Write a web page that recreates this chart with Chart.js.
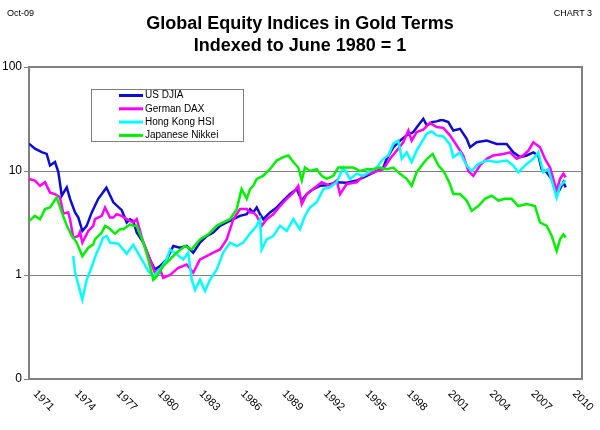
<!DOCTYPE html>
<html lang="en">
<head>
    <meta charset="UTF-8">
    <title>Global Equity Indices in Gold Terms</title>
    <style>
        body {
            margin: 0;
            background: #ffffff;
            font-family: "Liberation Sans", Arial, sans-serif;
        }
        #wrap {
            position: relative;
            width: 600px;
            height: 430px;
        }
        #chart {
            position: absolute;
            left: 0;
            top: 0;
        }
        .corner {
            position: absolute;
            top: 8px;
            font-size: 9px;
            color: #000;
        }
        #title {
            position: absolute;
            top: 12px;
            left: 0;
            width: 600px;
            text-align: center;
            font-weight: bold;
            font-size: 18px;
            line-height: 22px;
            color: #000;
        }
    </style>
</head>
<body>
<div id="wrap">
    <canvas id="chart" width="600" height="430"></canvas>
    <div class="corner" style="left:7px;">Oct-09</div>
    <div class="corner" style="right:8px;">CHART 3</div>
    <div id="title">Global Equity Indices in Gold Terms<br>Indexed to June 1980 = 1</div>
</div>

<script src="https://cdn.jsdelivr.net/npm/chart.js"></script>
<script>
    // axis ticks
    const xTickYears = [1971, 1974, 1977, 1980, 1983, 1986, 1989, 1992, 1995, 1998, 2001, 2004, 2007, 2010];
    const yTickValues = [0.1, 1, 10, 100];
    const yTickLabels = ['0', '1', '10', '100'];

    const seriesNames = ['US DJIA', 'German DAX', 'Hong Kong HSI', 'Japanese Nikkei'];
    const seriesColors = ['#0c0cd2', '#ff00ff', '#00ffff', '#00f000'];

    // US DJIA
    const djiaYears = [1971.00, 1971.43, 1971.92, 1972.28, 1972.52, 1972.88, 1973.12, 1973.37, 1973.73, 1973.97,
        1974.33, 1974.57, 1974.86, 1975.17, 1975.54, 1976.01, 1976.60, 1976.98, 1977.10, 1977.71,
        1978.07, 1978.31, 1978.54, 1978.79, 1979.27, 1979.75, 1980.11, 1980.48, 1980.96, 1981.44,
        1981.92, 1982.41, 1982.88, 1983.37, 1983.85, 1984.33, 1984.82, 1985.30, 1985.78, 1986.26,
        1986.75, 1986.99, 1987.22, 1987.47, 1987.71, 1987.95, 1988.43, 1988.92, 1989.39, 1989.88,
        1990.36, 1990.73, 1991.09, 1991.56, 1992.05, 1992.53, 1993.26, 1993.98, 1994.70, 1995.43,
        1996.15, 1996.63, 1996.87, 1997.35, 1997.84, 1998.32, 1998.80, 1999.16, 1999.52, 1999.77,
        2000.00, 2000.13, 2000.49, 2000.73, 2000.97, 2001.33, 2001.69, 2002.18, 2002.66, 2002.90,
        2003.38, 2004.11, 2004.83, 2005.55, 2006.03, 2006.52, 2007.00, 2007.48, 2007.84, 2008.08,
        2008.45, 2008.81, 2009.17, 2009.41, 2009.65, 2009.82];
    const djiaValues = [18.3, 16.4, 15.2, 14.6, 11.3, 12.2, 9.8, 5.8, 6.96, 5.4,
        4.0, 3.57, 2.65, 2.97, 4.0, 5.4, 6.9, 5.4, 5.0, 4.2,
        3.2, 3.44, 3.3, 2.56, 2.05, 1.41, 1.13, 1.22, 1.41, 1.9,
        1.83, 1.9, 1.64, 2.05, 2.37, 2.56, 2.97, 3.2, 3.44, 3.7,
        3.84, 4.3, 4.0, 4.46, 3.84, 3.44, 4.0, 4.46, 5.2, 6.0,
        6.7, 5.2, 6.0, 6.7, 7.2, 7.3, 7.8, 7.7, 8.1, 9.0,
        10.0, 10.8, 13.1, 16.9, 19.6, 22.0, 23.7, 27.5, 31.8, 27.5,
        28.5, 29.5, 30.0, 30.7, 30.7, 29.5, 24.5, 25.4, 20.4, 16.9,
        18.9, 19.6, 18.2, 18.2, 15.1, 13.6, 14.1, 15.1, 14.1, 10.4,
        9.7, 8.4, 6.0, 6.7, 7.8, 6.96];

    // German DAX
    const daxYears = [1971.00, 1971.43, 1971.80, 1972.16, 1972.52, 1972.88, 1973.24, 1973.48, 1973.84, 1973.97,
        1974.20, 1974.57, 1974.69, 1974.86, 1975.29, 1975.65, 1975.77, 1976.26, 1976.50, 1976.86,
        1977.10, 1977.34, 1977.71, 1978.07, 1978.54, 1978.79, 1979.27, 1979.75, 1980.11, 1980.48,
        1980.71, 1981.20, 1981.80, 1982.41, 1982.88, 1983.37, 1983.85, 1984.33, 1984.82, 1985.30,
        1985.78, 1986.26, 1986.75, 1986.99, 1987.22, 1987.47, 1987.83, 1988.19, 1988.67, 1989.16,
        1989.64, 1990.12, 1990.48, 1990.73, 1991.09, 1991.56, 1992.17, 1992.77, 1993.26, 1993.50,
        1993.98, 1994.70, 1995.18, 1995.90, 1996.63, 1997.11, 1997.60, 1998.07, 1998.44, 1998.68,
        1999.04, 1999.52, 2000.00, 2000.49, 2000.97, 2001.45, 2001.94, 2002.41, 2002.78, 2003.14,
        2003.62, 2004.11, 2004.58, 2005.31, 2005.79, 2006.28, 2006.75, 2007.12, 2007.48, 2007.96,
        2008.32, 2008.69, 2009.17, 2009.41, 2009.65, 2009.82];
    const daxValues = [8.4, 8.1, 7.2, 7.8, 6.2, 6.0, 5.6, 3.9, 4.0, 3.44,
        2.29, 2.37, 2.6, 2.05, 2.65, 2.97, 3.44, 3.7, 4.46, 3.57,
        3.57, 3.84, 3.7, 3.44, 3.2, 3.44, 2.05, 1.41, 1.05, 1.13,
        0.94, 1.0, 1.17, 1.26, 1.05, 1.41, 1.52, 1.64, 1.76, 2.2,
        3.44, 4.3, 4.3, 4.0, 4.0, 3.7, 2.97, 3.44, 3.84, 4.6,
        5.4, 6.2, 7.2, 4.8, 6.0, 6.7, 7.8, 7.2, 8.1, 6.0,
        7.5, 7.8, 9.0, 9.7, 10.4, 13.1, 15.7, 18.9, 24.5, 19.6,
        23.7, 25.0, 29.0, 26.5, 26.0, 22.0, 17.6, 14.1, 10.0, 9.0,
        11.3, 13.1, 14.1, 14.6, 15.1, 13.1, 14.1, 15.7, 18.9, 16.9,
        13.1, 10.8, 6.45, 8.4, 9.4, 8.7];

    // Hong Kong HSI
    const hsiYears = [1974.20, 1974.33, 1974.86, 1975.17, 1975.41, 1975.90, 1976.01, 1976.37, 1976.62, 1976.86,
        1977.46, 1978.07, 1978.54, 1979.15, 1979.63, 1979.99, 1980.48, 1980.96, 1981.20, 1981.68,
        1982.16, 1982.52, 1982.77, 1983.01, 1983.37, 1983.73, 1984.09, 1984.58, 1985.05, 1985.54,
        1986.02, 1986.50, 1986.99, 1987.47, 1987.71, 1987.83, 1988.19, 1988.67, 1989.16, 1989.64,
        1990.12, 1990.60, 1990.96, 1991.33, 1991.81, 1992.29, 1992.77, 1993.26, 1993.73, 1994.22,
        1994.70, 1995.18, 1995.67, 1996.15, 1996.63, 1996.99, 1997.35, 1997.71, 1997.96, 1998.32,
        1998.68, 1999.04, 1999.40, 1999.77, 2000.13, 2000.49, 2000.97, 2001.45, 2001.69, 2002.18,
        2002.66, 2003.02, 2003.50, 2004.11, 2004.83, 2005.55, 2006.03, 2006.39, 2007.00, 2007.48,
        2007.84, 2008.20, 2008.56, 2008.92, 2009.17, 2009.41, 2009.82];
    const hsiValues = [1.52, 1.06, 0.58, 0.9, 1.08, 1.64, 1.76, 2.29, 2.37, 2.05,
        2.0, 1.6, 1.95, 1.41, 1.09, 0.97, 1.13, 1.41, 1.76, 1.58,
        1.41, 1.64, 0.9, 0.72, 0.9, 0.70, 0.9, 1.13, 1.64, 2.05,
        1.9, 2.05, 2.5, 2.97, 3.44, 1.76, 2.2, 2.37, 2.97, 2.65,
        3.44, 2.75, 3.7, 4.46, 5.0, 6.7, 6.96, 7.8, 10.8, 8.4,
        9.4, 9.0, 10.0, 10.8, 13.1, 14.1, 18.2, 19.6, 13.1, 15.1,
        12.2, 15.7, 18.9, 22.8, 24.0, 22.0, 21.5, 18.0, 13.6, 15.1,
        11.3, 10.0, 11.7, 12.6, 12.2, 12.6, 11.3, 9.7, 11.7, 13.1,
        15.1, 9.7, 10.4, 7.2, 5.57, 7.2, 8.1];

    // Japanese Nikkei
    const nikkeiYears = [1971.00, 1971.43, 1971.80, 1972.16, 1972.52, 1973.00, 1973.37, 1973.73, 1974.09, 1974.20,
        1974.45, 1974.86, 1975.29, 1975.65, 1975.77, 1976.26, 1976.50, 1976.74, 1977.22, 1977.58,
        1977.82, 1978.31, 1978.54, 1978.79, 1979.27, 1979.63, 1979.99, 1980.24, 1980.71, 1981.20,
        1981.68, 1982.28, 1982.77, 1983.37, 1983.97, 1984.58, 1985.05, 1985.54, 1986.02, 1986.38,
        1986.75, 1986.99, 1987.22, 1987.47, 1987.71, 1987.95, 1988.43, 1988.92, 1989.39, 1989.76,
        1990.12, 1990.48, 1990.73, 1990.96, 1991.33, 1991.81, 1992.17, 1992.53, 1993.01, 1993.37,
        1993.98, 1994.46, 1994.94, 1995.43, 1995.90, 1996.39, 1996.87, 1997.35, 1997.84, 1998.32,
        1998.68, 1999.04, 1999.40, 1999.77, 2000.20, 2000.49, 2000.61, 2000.97, 2001.09, 2001.45,
        2001.69, 2002.18, 2002.66, 2003.02, 2003.50, 2003.98, 2004.47, 2004.95, 2005.43, 2005.91,
        2006.39, 2007.00, 2007.60, 2007.96, 2008.45, 2008.81, 2009.17, 2009.41, 2009.65, 2009.82];
    const nikkeiValues = [3.3, 3.7, 3.44, 4.3, 4.46, 5.57, 4.0, 3.0, 2.37, 2.29,
        2.05, 1.52, 1.83, 1.97, 2.2, 2.56, 2.97, 2.86, 2.5, 2.75,
        2.75, 3.07, 2.97, 2.97, 2.05, 1.41, 0.9, 0.97, 1.22, 1.41,
        1.64, 1.9, 1.76, 2.2, 2.46, 2.97, 3.2, 3.44, 4.3, 6.7,
        5.4, 6.7, 7.2, 8.4, 8.7, 9.0, 10.4, 12.6, 13.6, 14.1,
        12.2, 10.8, 8.1, 10.8, 10.0, 10.4, 9.0, 8.4, 9.0, 10.8,
        10.8, 10.8, 10.0, 10.4, 10.4, 10.8, 10.4, 10.8, 9.4, 8.4,
        7.2, 9.7, 11.3, 13.0, 14.6, 12.2, 11.3, 10.0, 9.4, 7.5,
        6.0, 6.0, 5.2, 4.14, 4.6, 5.4, 5.8, 5.2, 5.4, 5.4,
        4.6, 4.8, 4.6, 3.2, 2.97, 2.37, 1.7, 2.2, 2.46, 2.29];

    const seriesYears = [djiaYears, daxYears, hsiYears, nikkeiYears];
    const seriesValues = [djiaValues, daxValues, hsiValues, nikkeiValues];

    const FONT = '"Liberation Sans", Arial, sans-serif';
    const GRID = '#808080';

    // Legend box inside the plot, like the original spreadsheet chart
    const boxLegend = {
        id: 'boxLegend',
        afterDraw(chart) {
            const ctx = chart.ctx;
            const area = chart.chartArea;
            const left = area.left + 62, top = area.top + 22;
            ctx.save();
            ctx.fillStyle = '#ffffff';
            ctx.fillRect(left, top, 152, 52);
            ctx.strokeStyle = '#808080';
            ctx.lineWidth = 1;
            ctx.strokeRect(left + 0.5, top + 0.5, 152, 52);
            ctx.font = '10px ' + FONT;
            ctx.textBaseline = 'middle';
            ctx.fillStyle = '#000';
            seriesNames.forEach((name, i) => {
                const y = top + 6.5 + i * 13.3;
                ctx.strokeStyle = seriesColors[i];
                ctx.lineWidth = 3;
                ctx.beginPath();
                ctx.moveTo(left + 28, y);
                ctx.lineTo(left + 52, y);
                ctx.stroke();
                ctx.fillText(name, left + 54, y);
            });
            ctx.restore();
        }
    };

    // Plot frame plus the slanted year labels (top-left to bottom-right)
    const frameAndYears = {
        id: 'frameAndYears',
        afterDraw(chart) {
            const ctx = chart.ctx;
            const area = chart.chartArea;
            const xScale = chart.scales.x;
            ctx.save();
            ctx.strokeStyle = GRID;
            ctx.lineWidth = 2;
            ctx.beginPath();
            ctx.moveTo(area.left, area.top);
            ctx.lineTo(area.right, area.top);
            ctx.lineTo(area.right, area.bottom);
            ctx.stroke();

            ctx.fillStyle = '#000';
            ctx.font = '11px ' + FONT;
            ctx.textAlign = 'left';
            ctx.textBaseline = 'middle';
            xTickYears.forEach(year => {
                const px = xScale.getPixelForValue(year);
                ctx.save();
                ctx.translate(px + 6, area.bottom + 13);
                ctx.rotate(Math.PI / 4);
                ctx.fillText(String(year), 0, 0);
                ctx.restore();
            });
            ctx.restore();
        }
    };

    const datasets = seriesNames.map((name, i) => ({
        label: name,
        data: seriesYears[i].map((yr, j) => ({ x: yr, y: seriesValues[i][j] })),
        borderColor: seriesColors[i],
        backgroundColor: seriesColors[i],
        borderWidth: 2.5,
        pointRadius: 0,
        tension: 0,
        fill: false,
        order: seriesNames.length - i   // later series drawn on top
    }));

    new Chart(document.getElementById('chart').getContext('2d'), {
        type: 'line',
        data: { datasets: datasets },
        options: {
            responsive: false,
            animation: false,
            events: [],
            layout: { padding: { top: 67, right: 18, left: 0, bottom: 0 } },
            plugins: {
                legend: { display: false },
                title: { display: false },
                tooltip: { enabled: false }
            },
            scales: {
                x: {
                    type: 'linear',
                    min: 1971,
                    max: 2011,
                    grid: { display: false },
                    border: { display: true, color: GRID, width: 2 },
                    ticks: { display: false },
                    afterFit(scale) { scale.height = 51; }
                },
                y: {
                    type: 'logarithmic',
                    min: 0.1,
                    max: 100,
                    afterBuildTicks(scale) {
                        scale.ticks = yTickValues.map(v => ({ value: v }));
                    },
                    ticks: {
                        color: '#000',
                        padding: 2,
                        font: { family: FONT, size: 12 },
                        callback: (value, index) => yTickLabels[index]
                    },
                    grid: { color: GRID, lineWidth: 1, tickLength: 5, drawTicks: true },
                    border: { display: true, color: GRID, width: 2 },
                    afterFit(scale) { scale.width = 29; }
                }
            }
        },
        plugins: [frameAndYears, boxLegend]
    });
</script>
</body>
</html>
